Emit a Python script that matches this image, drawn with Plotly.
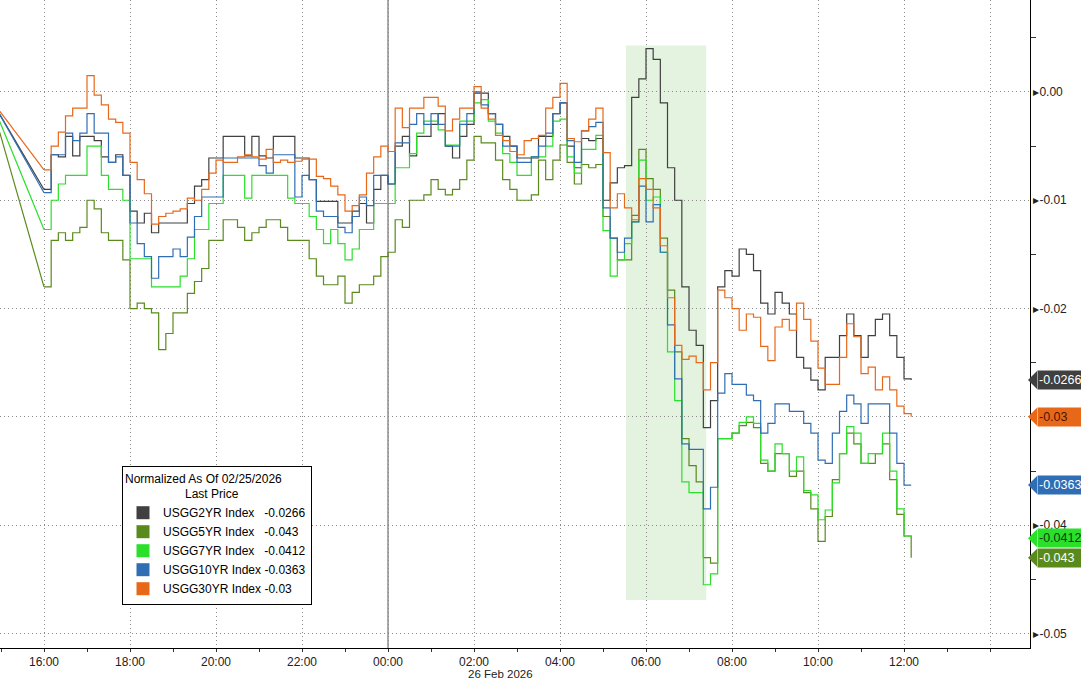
import plotly.graph_objects as go
import pandas as pd

# ---------------- data ----------------
SERIES_NAMES = ["USGG2YR Index", "USGG5YR Index", "USGG7YR Index", "USGG10YR Index", "USGG30YR Index"]

START_TIME = ["2026-02-25 14:55"]
SAMPLE_TIMES = list(pd.date_range("2026-02-25 16:00", "2026-02-26 12:10", freq="10min"))
TIMES = [pd.Timestamp(START_TIME[0])] + SAMPLE_TIMES

USGG2YR = [-0.0017,
    -0.0090, -0.0058, -0.0060, -0.0041, -0.0059, -0.0041,
    -0.0041, -0.0045, -0.0060, -0.0065, -0.0058, -0.0077,
    -0.0110, -0.0121, -0.0112, -0.0130, -0.0121, -0.0121,
    -0.0121, -0.0121, -0.0103, -0.0087, -0.0081, -0.0061,
    -0.0061, -0.0041, -0.0041, -0.0041, -0.0059, -0.0041,
    -0.0059, -0.0061, -0.0041, -0.0041, -0.0041, -0.0061,
    -0.0061, -0.0081, -0.0101, -0.0101, -0.0101, -0.0121,
    -0.0121, -0.0110, -0.0103, -0.0121, -0.0090, -0.0077,
    -0.0085, -0.0050, -0.0041, -0.0059, -0.0041, -0.0041,
    -0.0030, -0.0020, -0.0050, -0.0061, -0.0041, -0.0030,
    -0.0001, -0.0001, -0.0020, -0.0030, -0.0041, -0.0050,
    -0.0061, -0.0061, -0.0061, -0.0041, -0.0041, -0.0020,
    -0.0010, -0.0050, -0.0070, -0.0043, -0.0045, -0.0043,
    -0.0100, -0.0084, -0.0070, -0.0068, -0.0005, 0.0012,
    0.0040, 0.0030, -0.0010, -0.0070, -0.0100, -0.0180,
    -0.0220, -0.0234, -0.0310, -0.0285, -0.0180, -0.0165,
    -0.0170, -0.0145, -0.0150, -0.0165, -0.0195, -0.0205,
    -0.0185, -0.0195, -0.0205, -0.0245, -0.0255, -0.0266,
    -0.0275, -0.0245, -0.0245, -0.0225, -0.0205, -0.0225,
    -0.0245, -0.0225, -0.0210, -0.0205, -0.0225, -0.0245,
    -0.0265, -0.0266]

USGG5YR = [-0.0030,
    -0.0180, -0.0137, -0.0130, -0.0137, -0.0130, -0.0125,
    -0.0100, -0.0108, -0.0130, -0.0137, -0.0137, -0.0155,
    -0.0200, -0.0195, -0.0200, -0.0204, -0.0238, -0.0223,
    -0.0204, -0.0204, -0.0186, -0.0175, -0.0163, -0.0137,
    -0.0137, -0.0118, -0.0118, -0.0125, -0.0137, -0.0130,
    -0.0125, -0.0118, -0.0118, -0.0125, -0.0137, -0.0137,
    -0.0137, -0.0154, -0.0170, -0.0178, -0.0178, -0.0170,
    -0.0195, -0.0185, -0.0178, -0.0178, -0.0170, -0.0152,
    -0.0148, -0.0118, -0.0125, -0.0100, -0.0100, -0.0095,
    -0.0081, -0.0090, -0.0095, -0.0090, -0.0081, -0.0063,
    -0.0041, -0.0047, -0.0047, -0.0063, -0.0081, -0.0090,
    -0.0100, -0.0100, -0.0095, -0.0063, -0.0081, -0.0063,
    -0.0049, -0.0065, -0.0085, -0.0067, -0.0070, -0.0067,
    -0.0115, -0.0135, -0.0155, -0.0155, -0.0114, -0.0053,
    -0.0080, -0.0090, -0.0135, -0.0183, -0.0240, -0.0320,
    -0.0345, -0.0360, -0.0430, -0.0435, -0.0320, -0.0320,
    -0.0315, -0.0308, -0.0305, -0.0310, -0.0343, -0.0350,
    -0.0334, -0.0334, -0.0355, -0.0350, -0.0370, -0.0385,
    -0.0415, -0.0392, -0.0358, -0.0334, -0.0315, -0.0325,
    -0.0343, -0.0343, -0.0334, -0.0325, -0.0358, -0.0390,
    -0.0410, -0.0430]

USGG7YR = [-0.0022,
    -0.0127, -0.0100, -0.0085, -0.0077, -0.0077, -0.0077,
    -0.0050, -0.0050, -0.0077, -0.0090, -0.0090, -0.0100,
    -0.0154, -0.0154, -0.0154, -0.0180, -0.0180, -0.0180,
    -0.0180, -0.0170, -0.0154, -0.0127, -0.0127, -0.0103,
    -0.0103, -0.0077, -0.0077, -0.0077, -0.0098, -0.0077,
    -0.0077, -0.0077, -0.0077, -0.0077, -0.0098, -0.0103,
    -0.0103, -0.0115, -0.0127, -0.0140, -0.0127, -0.0140,
    -0.0155, -0.0145, -0.0127, -0.0127, -0.0103, -0.0103,
    -0.0103, -0.0070, -0.0070, -0.0057, -0.0038, -0.0027,
    -0.0027, -0.0035, -0.0049, -0.0049, -0.0027, -0.0027,
    -0.0010, -0.0007, -0.0027, -0.0038, -0.0057, -0.0065,
    -0.0077, -0.0077, -0.0060, -0.0060, -0.0050, -0.0027,
    -0.0025, -0.0060, -0.0075, -0.0053, -0.0053, -0.0040,
    -0.0128, -0.0170, -0.0155, -0.0140, -0.0120, -0.0063,
    -0.0100, -0.0097, -0.0148, -0.0240, -0.0285, -0.0360,
    -0.0370, -0.0370, -0.0455, -0.0445, -0.0320, -0.0320,
    -0.0315, -0.0305, -0.0300, -0.0306, -0.0340, -0.0350,
    -0.0325, -0.0334, -0.0350, -0.0337, -0.0368, -0.0372,
    -0.0395, -0.0386, -0.0361, -0.0334, -0.0309, -0.0315,
    -0.0343, -0.0334, -0.0334, -0.0315, -0.0350, -0.0385,
    -0.0410, -0.0412]

USGG10YR = [-0.0017,
    -0.0093, -0.0058, -0.0058, -0.0038, -0.0045, -0.0038,
    -0.0020, -0.0038, -0.0038, -0.0065, -0.0060, -0.0077,
    -0.0121, -0.0140, -0.0152, -0.0172, -0.0152, -0.0152,
    -0.0145, -0.0152, -0.0134, -0.0115, -0.0097, -0.0097,
    -0.0097, -0.0061, -0.0061, -0.0061, -0.0061, -0.0061,
    -0.0068, -0.0075, -0.0058, -0.0058, -0.0058, -0.0097,
    -0.0077, -0.0081, -0.0110, -0.0115, -0.0115, -0.0125,
    -0.0130, -0.0115, -0.0097, -0.0105, -0.0077, -0.0077,
    -0.0085, -0.0047, -0.0047, -0.0030, -0.0020, -0.0030,
    -0.0020, -0.0030, -0.0050, -0.0050, -0.0030, -0.0020,
    0.0000, -0.0012, -0.0020, -0.0030, -0.0050, -0.0050,
    -0.0065, -0.0065, -0.0060, -0.0050, -0.0038, -0.0020,
    -0.0010, -0.0045, -0.0065, -0.0036, -0.0032, -0.0028,
    -0.0107, -0.0135, -0.0148, -0.0135, -0.0120, -0.0087,
    -0.0120, -0.0104, -0.0148, -0.0215, -0.0265, -0.0325,
    -0.0330, -0.0330, -0.0385, -0.0365, -0.0278, -0.0260,
    -0.0270, -0.0270, -0.0280, -0.0285, -0.0315, -0.0306,
    -0.0288, -0.0288, -0.0295, -0.0295, -0.0306, -0.0315,
    -0.0340, -0.0343, -0.0315, -0.0295, -0.0280, -0.0288,
    -0.0306, -0.0288, -0.0288, -0.0288, -0.0315, -0.0343,
    -0.0363, -0.0363]

USGG30YR = [-0.0015,
    -0.0072, -0.0050, -0.0037, -0.0022, -0.0015, -0.0015,
    0.0015, -0.0003, -0.0012, -0.0025, -0.0028, -0.0038,
    -0.0065, -0.0081, -0.0094, -0.0122, -0.0115, -0.0112,
    -0.0110, -0.0108, -0.0098, -0.0100, -0.0090, -0.0075,
    -0.0063, -0.0065, -0.0065, -0.0060, -0.0058, -0.0060,
    -0.0062, -0.0053, -0.0065, -0.0063, -0.0065, -0.0064,
    -0.0062, -0.0062, -0.0078, -0.0080, -0.0087, -0.0095,
    -0.0110, -0.0105, -0.0095, -0.0075, -0.0060, -0.0050,
    -0.0055, -0.0015, -0.0033, -0.0015, -0.0015, -0.0005,
    -0.0005, -0.0013, -0.0036, -0.0025, -0.0015, -0.0015,
    0.0005, -0.0015, -0.0025, -0.0040, -0.0045, -0.0055,
    -0.0058, -0.0045, -0.0043, -0.0040, -0.0015, -0.0005,
    0.0008, -0.0043, -0.0046, -0.0036, -0.0025, -0.0015,
    -0.0056, -0.0107, -0.0094, -0.0107, -0.0118, -0.0080,
    -0.0090, -0.0107, -0.0142, -0.0190, -0.0234, -0.0247,
    -0.0244, -0.0250, -0.0275, -0.0250, -0.0183, -0.0190,
    -0.0200, -0.0220, -0.0205, -0.0208, -0.0235, -0.0248,
    -0.0217, -0.0210, -0.0220, -0.0195, -0.0210, -0.0230,
    -0.0255, -0.0270, -0.0270, -0.0245, -0.0214, -0.0226,
    -0.0260, -0.0254, -0.0275, -0.0263, -0.0275, -0.0290,
    -0.0297, -0.0300]

X_TICK_VALUES = ["2026-02-25 16:00", "2026-02-25 18:00", "2026-02-25 20:00", "2026-02-25 22:00",
                 "2026-02-26 00:00", "2026-02-26 02:00", "2026-02-26 04:00", "2026-02-26 06:00",
                 "2026-02-26 08:00", "2026-02-26 10:00", "2026-02-26 12:00", "2026-02-26 14:00"]
X_TICK_LABELS = ["16:00", "18:00", "20:00", "22:00", "00:00", "02:00", "04:00", "06:00",
                 "08:00", "10:00", "12:00", ""]
Y_TICK_VALUES = [0.0, -0.01, -0.02, -0.03, -0.04, -0.05]
# -0.03 tick text is hidden behind the 30YR last-price tag in the reference
Y_TICK_LABELS = ["0.00", "-0.01", "-0.02", "", "-0.04", "-0.05"]

# ---------------- styles ----------------
COLORS = ["#404040", "#5A8A1C", "#2AE02A", "#2F6EB5", "#E8681A"]
LABEL_TEXT_COLORS = ["#ffffff", "#ffffff", "#0d3a0d", "#ffffff", "#4a1500"]
SHAPES_HV = ["hv", "hv", "hv", "hv", "hv"]
LEGEND_PAD = ["\u00a0\u00a0\u00a0", "\u00a0\u00a0\u00a0", "\u00a0\u00a0\u00a0", "\u00a0", "\u00a0"]
FONT = "Liberation Sans, Arial, sans-serif"
NARROW = "Liberation Sans Narrow, Arial Narrow, Liberation Sans, sans-serif"

PLOT_W = 1030.0
PLOT_H = 648.0
Y_RANGE = [-0.05134, 0.00849]
X_RANGE = ["2026-02-25 14:58:36", "2026-02-26 14:55:48"]

all_series = [USGG2YR, USGG5YR, USGG7YR, USGG10YR, USGG30YR]

fig = go.Figure()

# highlight box
fig.add_shape(type="rect", xref="x", yref="y",
              x0="2026-02-26 05:32", x1="2026-02-26 07:24", y0=-0.0469, y1=0.0043,
              fillcolor="#E3F3DF", line=dict(width=0), layer="below")

# midnight separator
fig.add_shape(type="line", xref="x", yref="paper",
              x0="2026-02-26 00:00", x1="2026-02-26 00:00", y0=0, y1=1,
              line=dict(color="#555555", width=1), layer="below")

for name, vals, color, shp in zip(SERIES_NAMES, all_series, COLORS, SHAPES_HV):
    # initial gap segment (linear)
    fig.add_trace(go.Scatter(x=TIMES[:2], y=vals[:2], mode="lines",
                             line=dict(color=color, width=1.2), showlegend=False,
                             hoverinfo="skip"))
    fig.add_trace(go.Scatter(x=TIMES[1:], y=vals[1:], mode="lines",
                             line=dict(color=color, width=1.2, shape=shp),
                             name=name, showlegend=False))

# legend entries (square swatches)
for name, vals, color, pad in zip(SERIES_NAMES, all_series, COLORS, LEGEND_PAD):
    fig.add_trace(go.Scatter(x=[None], y=[None], mode="markers",
                             marker=dict(symbol="square", size=13, color=color),
                             name=f"{name}{pad}{vals[-1]:g}", showlegend=True))

# right-side last value labels
px_x = 1.0 / PLOT_W
px_y = (Y_RANGE[1] - Y_RANGE[0]) / PLOT_H
for vals, color, tcolor in zip(all_series, COLORS, LABEL_TEXT_COLORS):
    v = vals[-1]
    fig.add_shape(type="path", xref="paper", yref="y",
                  path=f"M {1 - 2*px_x},{v} L {1 + 7*px_x},{v + 9*px_y} L {1 + 7*px_x},{v - 9*px_y} Z",
                  fillcolor=color, line=dict(width=0), layer="above")
    fig.add_annotation(xref="paper", yref="y", x=1 + 6.5*px_x, y=v,
                       xanchor="left", yanchor="middle", text=f"{v:g}",
                       showarrow=False, bgcolor=color, borderpad=1,
                       width=48, height=16, align="left",
                       font=dict(family=FONT, size=12.5, color=tcolor))

# date label under the axis
fig.add_annotation(xref="x", yref="paper", x="2026-02-26 02:37", y=0, yshift=-26,
                   text="26 Feb 2026", showarrow=False, yanchor="middle",
                   font=dict(family=NARROW, size=11.5, color="#222222"))

legend_title = ("Normalized As Of 02/25/2026<br>" + "\u00a0" * 18 + "Last Price")

fig.update_layout(
    width=1081, height=681,
    margin=dict(l=0, r=51, t=0, b=33, pad=0),
    paper_bgcolor="white", plot_bgcolor="white",
    showlegend=True,
    legend=dict(x=122 / PLOT_W, y=1 - 466 / PLOT_H, xanchor="left", yanchor="top",
                bgcolor="white", bordercolor="black", borderwidth=1,
                font=dict(family=FONT, size=12, color="black"),
                title=dict(text=legend_title, side="top",
                           font=dict(family=FONT, size=12, color="black")),
                tracegroupgap=0, itemwidth=30),
    xaxis=dict(type="date", range=X_RANGE, tickmode="array",
               tickvals=X_TICK_VALUES, ticktext=X_TICK_LABELS,
               showgrid=True, gridcolor="#8a8a8a", griddash="1px,3px", gridwidth=1,
               ticks="outside", ticklen=3, tickcolor="#333333",
               minor=dict(tickmode="linear", tick0="2026-02-25 15:00", dtick=7200000,
                          ticks="outside", ticklen=3, tickcolor="#333333", showgrid=False),
               showline=True, linecolor="black", linewidth=1, zeroline=False,
               tickfont=dict(family=NARROW, size=12, color="#222222"), automargin=False),
    yaxis=dict(side="right", range=Y_RANGE, tickmode="array",
               tickvals=Y_TICK_VALUES,
               ticktext=[("\u25b8" + t) if t else "" for t in Y_TICK_LABELS],
               showgrid=True, gridcolor="#8a8a8a", griddash="1px,3px", gridwidth=1,
               ticks="", showline=True, linecolor="black", linewidth=1, zeroline=False,
               minor=dict(tickmode="linear", tick0=0.005, dtick=0.01, ticks="outside",
                          ticklen=5, tickcolor="#333333", showgrid=False),
               tickfont=dict(family=FONT, size=12, color="#222222"), automargin=False),
)

fig.write_html("out.html", config={"displayModeBar": False},
               post_script="document.body.style.margin='0';")
